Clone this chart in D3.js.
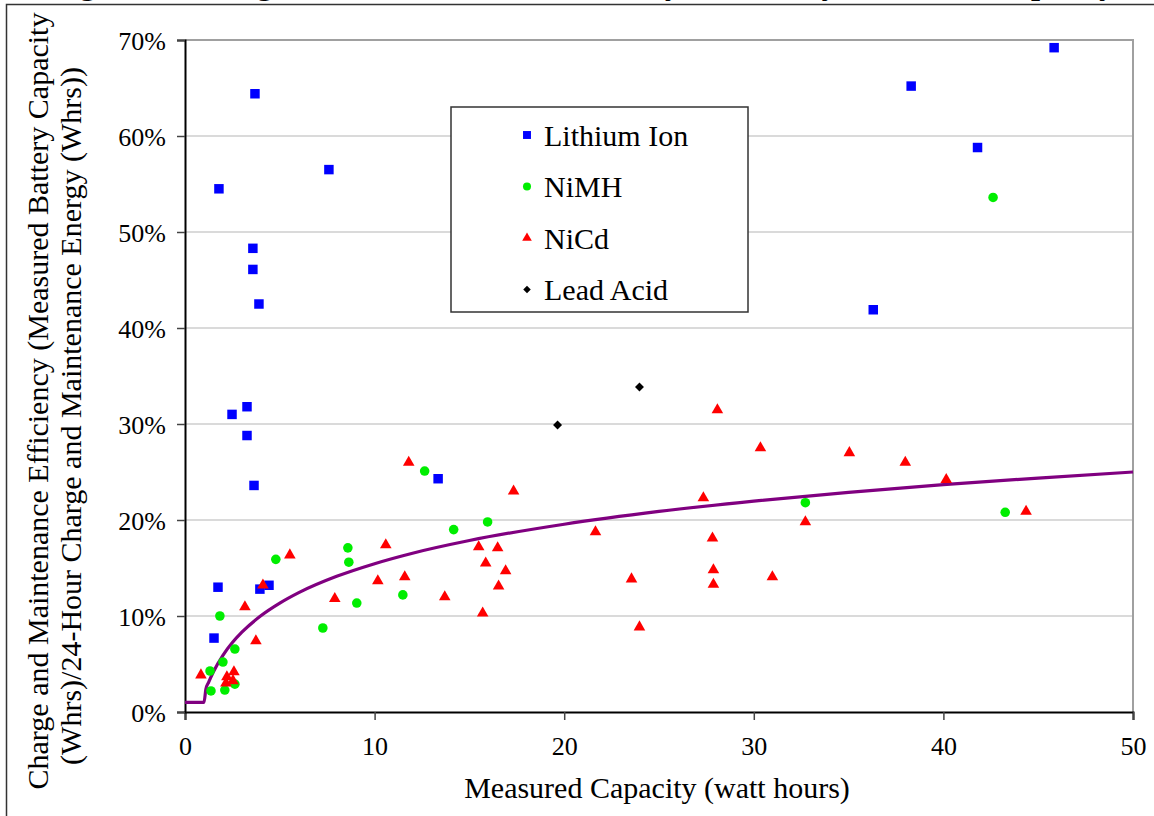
<!DOCTYPE html>
<html>
<head>
<meta charset="utf-8">
<script src="https://cdn.jsdelivr.net/npm/d3@7/dist/d3.min.js"></script>
<style>
  html, body { margin: 0; padding: 0; background: #fff; }
  svg { display: block; font-family: 'Liberation Serif', 'Times New Roman', serif; }
</style>
</head>
<body>
<svg id="chart" width="1154" height="816"></svg>
<script>
// values: [capacity (Wh), efficiency]
const liIon = [
  [1.53, 0.077], [1.74, 0.130], [1.79, 0.545], [3.69, 0.644], [3.58, 0.483],
  [3.58, 0.461], [3.90, 0.425], [2.48, 0.310], [3.27, 0.318], [3.27, 0.288],
  [3.64, 0.236], [3.95, 0.128], [4.43, 0.132], [7.59, 0.565], [13.35, 0.243],
  [36.3, 0.419], [38.3, 0.652], [41.8, 0.588], [45.84, 0.692]
];
const niMH = [
  [8.59, 0.171], [8.64, 0.156], [4.79, 0.159], [1.84, 0.100], [9.06, 0.1135],
  [11.49, 0.122], [7.27, 0.0875], [2.63, 0.0656], [2.00, 0.052], [1.32, 0.0427],
  [1.37, 0.0219], [2.10, 0.0229], [2.63, 0.029], [12.64, 0.251], [14.17, 0.190],
  [15.96, 0.198], [32.72, 0.218], [43.26, 0.208], [42.62, 0.536]
];
const niCd = [
  [0.84, 0.0385], [5.53, 0.1635], [10.59, 0.174], [4.11, 0.132], [3.16, 0.1094],
  [7.90, 0.118], [10.17, 0.1365], [11.59, 0.1406], [3.74, 0.074], [2.21, 0.0365],
  [2.58, 0.0417], [2.16, 0.030], [2.53, 0.0325], [11.80, 0.260], [17.33, 0.230],
  [13.70, 0.1198], [15.49, 0.172], [16.49, 0.1708], [15.86, 0.155], [16.91, 0.147],
  [16.54, 0.131], [15.70, 0.103], [21.65, 0.1875], [28.08, 0.3146], [30.35, 0.275],
  [35.04, 0.270], [27.34, 0.223], [32.72, 0.198], [27.82, 0.181], [27.87, 0.148],
  [27.87, 0.133], [23.55, 0.1385], [30.98, 0.1406], [23.97, 0.0885], [37.99, 0.260],
  [40.15, 0.242], [44.36, 0.209]
];
const leadAcid = [[19.65, 0.299], [23.97, 0.3385]];

// trend line as it appears on the picture
const trend = [
  [0, 0.010], [1.0, 0.010], [1.1, 0.0237], [1.25, 0.0312], [1.5, 0.042], [2, 0.0591],
  [2.5, 0.0723], [3, 0.0831], [4, 0.1002], [5, 0.1134], [6, 0.1243], [8, 0.1413],
  [10, 0.1545], [12, 0.1654], [15, 0.1786], [20, 0.1956], [25, 0.2089], [30, 0.2197],
  [35, 0.2288], [40, 0.2368], [45, 0.2437], [50, 0.250]
];

const xTicks = [0, 10, 20, 30, 40, 50];
const yTicks = [0, 0.1, 0.2, 0.3, 0.4, 0.5, 0.6, 0.7];
const seriesNames = ['Lithium Ion', 'NiMH', 'NiCd', 'Lead Acid'];

const titleText = 'Figure 5: Charge and Maintenance Efficiency vs. Battery Measured Capacity';
const xTitle = 'Measured Capacity (watt hours)';
const yTitle = [
  'Charge and Maintenance Efficiency (Measured Battery Capacity',
  '(Whrs)/24-Hour Charge and Maintenance Energy (Whrs))'
];

const W = 1154, H = 816;
const plot = { left: 185, right: 1133, top: 40, bottom: 712 };

const svg = d3.select('#chart');

const x = d3.scaleLinear().domain([0, 50]).range([plot.left, plot.right]);
const y = d3.scaleLinear().domain([0, 0.7]).range([plot.bottom, plot.top]);

// title, mostly cut off at the top edge (only descenders show)
const title = svg.append('text')
  .attr('x', 583)
  .attr('y', -6.5)
  .attr('text-anchor', 'middle')
  .attr('font-weight', 'bold')
  .attr('font-size', 28)
  .text(titleText);
const tl = title.node().getComputedTextLength();
title.attr('font-size', 28 * 1065 / tl);

// outer chart frame
svg.append('path')
  .attr('d', `M6.5,${H + 5}V4.5H${W + 5}`)
  .attr('fill', 'none')
  .attr('stroke', '#333')
  .attr('stroke-width', 1.5);

// gridlines
svg.append('g')
  .selectAll('line')
  .data(yTicks.slice(1, -1))
  .join('line')
  .attr('x1', plot.left)
  .attr('x2', plot.right)
  .attr('y1', d => y(d))
  .attr('y2', d => y(d))
  .attr('stroke', '#dadada')
  .attr('stroke-width', 2);

// top and right border of plot area
svg.append('path')
  .attr('d', `M${plot.left},${plot.top}H${plot.right}V${plot.bottom}`)
  .attr('fill', 'none')
  .attr('stroke', '#a0a0a0')
  .attr('stroke-width', 2);

// axes
const xAxis = svg.append('g')
  .attr('transform', `translate(0,${plot.bottom})`)
  .call(d3.axisBottom(x).tickValues(xTicks).tickSize(8).tickPadding(17).tickFormat(d3.format('d')));
const yAxis = svg.append('g')
  .attr('transform', `translate(${plot.left},0)`)
  .call(d3.axisLeft(y).tickValues(yTicks).tickSize(8).tickPadding(11).tickFormat(d3.format('.0%')));

[xAxis, yAxis].forEach(a => {
  a.select('.domain').attr('stroke', '#000').attr('stroke-width', 2);
  a.selectAll('.tick line').attr('stroke', '#444').attr('stroke-width', 1.5);
  a.selectAll('.tick text')
    .attr('fill', '#000')
    .attr('font-size', 26)
    .attr('font-family', "'Liberation Serif', 'Times New Roman', serif");
});
yAxis.selectAll('.tick text').attr('dy', '0.35em');

// axis titles
svg.append('text')
  .attr('x', 657)
  .attr('y', 798)
  .attr('text-anchor', 'middle')
  .attr('font-size', 30)
  .text(xTitle);

svg.append('g')
  .selectAll('text')
  .data(yTitle)
  .join('text')
  .attr('transform', (d, i) => `translate(${[48, 81][i]},${[401, 416][i]}) rotate(-90)`)
  .attr('text-anchor', 'middle')
  .attr('font-size', 30)
  .text(d => d);

// trend line
svg.append('path')
  .datum(trend)
  .attr('d', d3.line().x(d => x(d[0])).y(d => y(d[1])).curve(d3.curveMonotoneX))
  .attr('fill', 'none')
  .attr('stroke', '#800080')
  .attr('stroke-width', 3.2);

// markers
const sym = {
  'Lithium Ion': { type: d3.symbolSquare, size: 90, rot: 0, color: '#0000ff', data: liIon },
  'NiMH': { type: d3.symbolCircle, size: 72, rot: 0, color: '#00ee00', data: niMH },
  'NiCd': { type: d3.symbolTriangle, size: 58, rot: 0, color: '#ff0000', data: niCd },
  'Lead Acid': { type: d3.symbolSquare, size: 40, rot: 45, color: '#000000', data: leadAcid }
};

seriesNames.forEach(name => {
  const s = sym[name];
  svg.append('g')
    .selectAll('path')
    .data(s.data)
    .join('path')
    .attr('transform', d => `translate(${x(d[0])},${y(d[1])}) rotate(${s.rot})`)
    .attr('d', d3.symbol().type(s.type).size(s.size))
    .attr('fill', s.color);
});

// legend
const legend = svg.append('g').attr('transform', 'translate(451,107)');
legend.append('rect')
  .attr('width', 297)
  .attr('height', 205)
  .attr('fill', '#fff')
  .attr('stroke', '#333')
  .attr('stroke-width', 1.5);

const row = legend.selectAll('g.row')
  .data(seriesNames)
  .join('g')
  .attr('class', 'row')
  .attr('transform', (d, i) => `translate(0,${28 + i * 51.5})`);

row.append('path')
  .attr('transform', d => `translate(76,0) rotate(${sym[d].rot})`)
  .attr('d', d => d3.symbol().type(sym[d].type).size(sym[d].size * 0.7)())
  .attr('fill', d => sym[d].color);

row.append('text')
  .attr('x', 93)
  .attr('dy', '0.35em')
  .attr('font-size', 30)
  .text(d => d);
</script>
</body>
</html>
